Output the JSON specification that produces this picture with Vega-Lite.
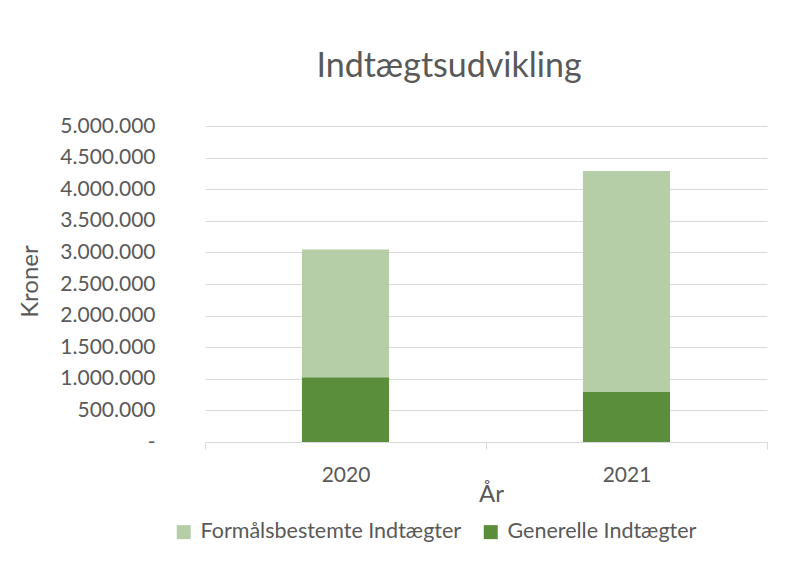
{
  "$schema": "https://vega.github.io/schema/vega-lite/v6.json",
  "width": 562,
  "height": 316,
  "autosize": {"type": "none"},
  "padding": {"left": 205, "top": 126, "right": 43, "bottom": 120},
  "background": "white",
  "title": {
    "text": "Indtægtsudvikling",
    "fontSize": 34,
    "font": "Lato",
    "fontWeight": "normal",
    "color": "#595959",
    "anchor": "middle",
    "dx": -37,
    "offset": 31
  },
  "data": {
    "values": [
      {"Year": "2020", "Type": "Generelle Indtægter", "Value": 1024000},
      {"Year": "2020", "Type": "Formålsbestemte Indtægter", "Value": 2020000},
      {"Year": "2021", "Type": "Generelle Indtægter", "Value": 791000},
      {"Year": "2021", "Type": "Formålsbestemte Indtægter", "Value": 3497000}
    ]
  },
  "mark": {"type": "bar", "width": {"band": 0.31}},
  "encoding": {
    "x": {
      "field": "Year",
      "type": "nominal",
      "title": "År",
      "scale": {"paddingInner": 0, "paddingOuter": 0},
      "axis": {
        "labelAngle": 0,
        "tickBand": "extent",
        "tickSize": 7,
        "tickColor": "#D9D9D9",
        "domainColor": "#D9D9D9",
        "labelFontSize": 21,
        "labelPadding": 15,
        "titleX": 286,
        "titleY": 59,
        "titleBaseline": "alphabetic",
        "titleFontSize": 24,
        "grid": false
      }
    },
    "y": {
      "field": "Value",
      "type": "quantitative",
      "stack": "zero",
      "title": "Kroner",
      "scale": {"domain": [0, 5000000]},
      "axis": {
        "values": [0, 500000, 1000000, 1500000, 2000000, 2500000, 3000000, 3500000, 4000000, 4500000, 5000000],
        "format": ",.0f",
        "labelExpr": "datum.value == 0 ? '-' : datum.label",
        "labelFontSize": 21,
        "domain": false,
        "ticks": false,
        "labelPadding": 50,
        "titleX": -175,
        "titleY": 155,
        "titleAlign": "center",
        "titleBaseline": "middle",
        "titleAngle": -90,
        "titleFontSize": 24,
        "gridColor": "#D9D9D9"
      }
    },
    "color": {
      "field": "Type",
      "type": "nominal",
      "title": null,
      "scale": {
        "domain": ["Formålsbestemte Indtægter", "Generelle Indtægter"],
        "range": ["#B5CEA7", "#5B8E3A"]
      },
      "legend": {
        "orient": "none",
        "direction": "horizontal",
        "legendX": -32,
        "legendY": 395,
        "symbolType": "square",
        "symbolSize": 196,
        "symbolStrokeWidth": 0,
        "labelFontSize": 21.5,
        "labelFont": "Lato",
        "labelColor": "#595959",
        "labelLimit": 0,
        "columnPadding": 18,
        "labelOffset": 6
      }
    },
    "order": {"field": "Type", "sort": "descending"}
  },
  "config": {
    "locale": {
      "number": {"decimal": ",", "thousands": ".", "grouping": [3], "currency": ["", " kr."]}
    },
    "view": {"stroke": null},
    "axis": {
      "labelFont": "Lato",
      "labelColor": "#595959",
      "titleFont": "Lato",
      "titleFontWeight": "normal",
      "titleColor": "#595959"
    }
  }
}
